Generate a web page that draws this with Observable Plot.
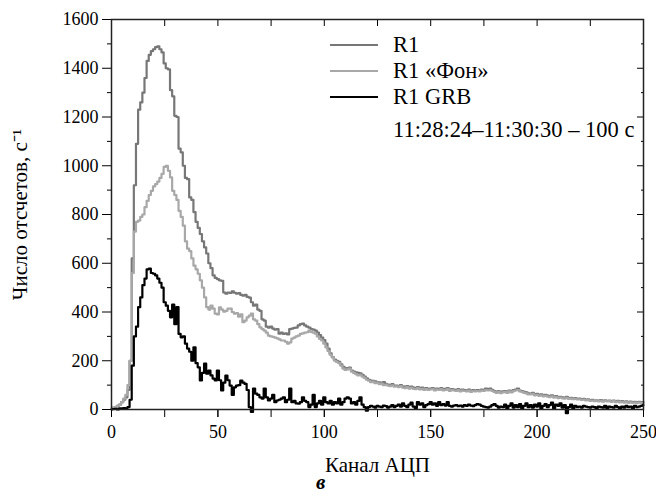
<!DOCTYPE html>
<html><head><meta charset="utf-8">
<script src="https://cdn.jsdelivr.net/npm/d3@7"></script>
<script src="https://cdn.jsdelivr.net/npm/@observablehq/plot@0.6"></script>
<style>
body{margin:0;background:#fff;}
#wrap{position:relative;width:656px;height:504px;font-family:"Liberation Serif","Times New Roman",serif;color:#000;}
.row{position:absolute;left:330px;height:24px;display:flex;align-items:center;font-size:22.5px;white-space:nowrap;}
.sw{width:48px;height:0;border-top:2.5px solid;margin-right:15px;}
.note{font-size:22.5px;}
.cap{position:absolute;left:316px;top:470px;font-size:21px;font-style:italic;font-weight:bold;}
</style></head><body><div id="wrap"></div>
<script>
// ADC channel index
const channels = d3.range(0, 251);
// R1 count rate, s^-1
const r1 = [
5,8,10,15,20,30,40,50,80,200,
620,920,1090,1230,1260,1300,1360,1430,1455,1470,
1478,1487,1490,1478,1465,1420,1400,1395,1310,1285,
1205,1200,1070,1055,1000,950,945,870,860,810,
770,745,720,690,665,640,600,580,550,540,
535,530,528,480,475,480,478,485,479,475,
478,470,467,470,462,459,440,426,430,410,
405,370,365,340,336,340,332,328,330,311,
315,310,312,308,330,332,335,336,345,350,
352,345,340,336,330,328,324,315,305,295,
285,270,250,230,215,205,200,195,185,175,
168,170,172,160,155,152,150,148,142,135,
128,122,119,118,115,112,111,108,112,105,
102,100,104,98,98,96,100,95,92,96,
90,94,90,88,92,86,90,85,88,84,
86,88,82,86,84,88,82,85,88,80,
84,82,80,84,78,82,80,78,82,76,
80,78,80,78,82,80,86,84,86,80,
76,72,75,71,74,76,72,78,74,80,
82,86,78,76,72,70,66,65,68,62,
64,60,62,58,60,57,55,58,52,55,
50,52,50,48,52,46,48,45,47,44,
45,42,44,40,42,38,40,37,38,36,
39,35,38,36,37,34,37,33,35,32,
34,31,33,30,32,30,31,29,31,30,
30];
// R1 "background"
const r1Bg = [
3,6,10,15,20,30,45,60,100,200,
560,730,770,775,790,800,830,856,880,897,
915,925,935,950,967,995,1000,979,952,897,
880,860,815,790,754,690,660,650,620,590,
575,557,530,500,460,420,410,426,414,393,
390,419,410,401,405,414,414,400,393,395,
381,390,358,365,378,385,393,370,365,350,
337,330,324,315,303,300,298,295,292,288,
283,283,278,270,275,291,295,300,303,310,
312,315,317,324,318,315,311,300,290,283,
270,255,240,225,214,200,195,190,180,168,
162,165,168,155,150,145,140,142,135,130,
122,118,112,114,108,110,104,106,100,102,
98,96,99,94,95,92,96,90,88,92,
86,89,85,84,88,82,85,80,84,80,
82,84,78,82,80,84,78,80,84,76,
80,78,76,80,74,78,76,74,78,72,
76,74,76,74,78,76,80,78,80,76,
72,68,72,67,70,72,68,74,70,75,
78,80,74,72,68,66,62,62,64,58,
60,56,58,54,56,53,51,54,49,51,
47,49,46,45,48,43,45,42,44,41,
42,39,41,37,39,35,37,34,35,33,
36,32,35,33,34,31,34,30,32,29,
31,28,30,27,29,27,28,26,28,27,
27];
// R1 GRB
const r1Grb = [
0,2,3,0,5,5,6,5,10,40,
180,300,340,420,460,510,537,575,578,560,
557,550,537,520,500,440,426,405,378,430,
350,420,310,296,300,270,250,237,200,255,
190,173,119,150,188,147,160,140,127,119,
160,120,78,110,139,120,98,60,91,98,
100,119,110,105,80,10,-10,86,65,60,
50,45,86,50,37,45,60,30,37,40,
45,50,30,40,86,30,35,25,24,30,
50,35,30,10,20,60,10,25,35,20,
50,30,25,35,20,30,25,45,20,30,
45,50,45,25,30,20,35,50,20,10,
-5,10,15,12,8,15,12,10,16,14,
8,12,18,10,15,20,12,25,15,10,
20,28,12,5,30,20,25,10,18,22,
30,20,25,15,30,18,22,16,30,15,
12,16,18,14,16,12,18,15,20,16,
14,18,22,20,15,12,10,8,12,18,
22,15,8,12,10,20,5,15,25,8,
18,10,22,5,15,25,10,18,8,20,
12,25,5,15,22,10,18,28,5,20,
15,25,8,18,-15,10,20,5,15,10,
12,8,15,12,10,8,12,10,5,12,
10,8,15,5,12,10,8,15,10,5,
12,8,15,10,12,5,15,10,12,15,
18];
const seriesNames = ["R1", "R1 «Фон»", "R1 GRB"];
const seriesColors = ["#777777", "#a8a8a8", "#000000"];
const legendNote = "11:28:24–11:30:30 – 100 с";
const xMajor = [0, 50, 100, 150, 200, 250];
const xMinor = [0, 25, 50, 75, 100, 125, 150, 175, 200, 225, 250];
const yMajor = [0, 200, 400, 600, 800, 1000, 1200, 1400, 1600];
const yMinor = [100, 300, 500, 700, 900, 1100, 1300, 1500];
const xLabel = "Канал АЦП";
const yLabel = "Число отсчетов, с⁻¹";
const caption = "в";

const allSeries = [r1, r1Bg, r1Grb];
const rows = allSeries.flatMap((vals, k) => vals.map((v, i) => ({ch: channels[i], v, s: seriesNames[k]})));

const blank = () => "";
const plain = d => String(d);
const plot = Plot.plot({
  width: 656, height: 504,
  marginLeft: 111, marginRight: 13, marginTop: 19, marginBottom: 95,
  style: {fontFamily: "'Liberation Serif', serif", fontSize: "18px", color: "#000", background: "#fff"},
  x: {domain: [0, 250]},
  y: {domain: [0, 1600]},
  color: {domain: seriesNames, range: seriesColors},
  marks: [
    ...seriesNames.map(name => Plot.line(rows.filter(d => d.s === name), {x: "ch", y: "v", stroke: "s", curve: "step", strokeWidth: 2.2})),
    Plot.axisX({ticks: xMajor, tickSize: 8, tickPadding: 8, tickFormat: plain, label: xLabel, labelAnchor: "center", labelArrow: "none", labelOffset: 62}),
    Plot.axisX({ticks: xMinor, tickSize: 8, tickFormat: blank, label: null}),
    Plot.axisX({ticks: xMinor, anchor: "top", tickSize: -6, tickFormat: blank, label: null}),
    Plot.axisY({ticks: yMajor, tickSize: 9, tickPadding: 4, tickFormat: plain, label: yLabel, labelAnchor: "center", labelArrow: "none", labelOffset: 99}),
    Plot.axisY({ticks: yMinor, tickSize: 4, tickFormat: blank, label: null}),
    Plot.axisY({ticks: yMajor, anchor: "right", tickSize: -7, tickFormat: blank, label: null}),
    Plot.axisY({ticks: yMinor, anchor: "right", tickSize: -3, tickFormat: blank, label: null}),
    Plot.frame({stroke: "#222", strokeWidth: 1.5})
  ]
});
plot.querySelectorAll("[aria-label='x-axis label'] text, [aria-label='y-axis label'] text").forEach(t => t.setAttribute("font-size", "21"));
const wrap = document.getElementById("wrap");
wrap.appendChild(plot);
const tops = [33, 59, 85];
seriesNames.forEach((n, k) => {
  const r = document.createElement("div");
  r.className = "row"; r.style.top = tops[k] + "px";
  r.innerHTML = `<div class="sw" style="border-color:${seriesColors[k]}"></div><span></span>`;
  r.querySelector("span").textContent = n;
  wrap.appendChild(r);
});
const note = document.createElement("div");
note.className = "row note"; note.style.top = "118px"; note.style.left = "393px";
note.textContent = legendNote;
wrap.appendChild(note);
const cap = document.createElement("div");
cap.className = "cap"; cap.textContent = caption;
wrap.appendChild(cap);
</script></body></html>
